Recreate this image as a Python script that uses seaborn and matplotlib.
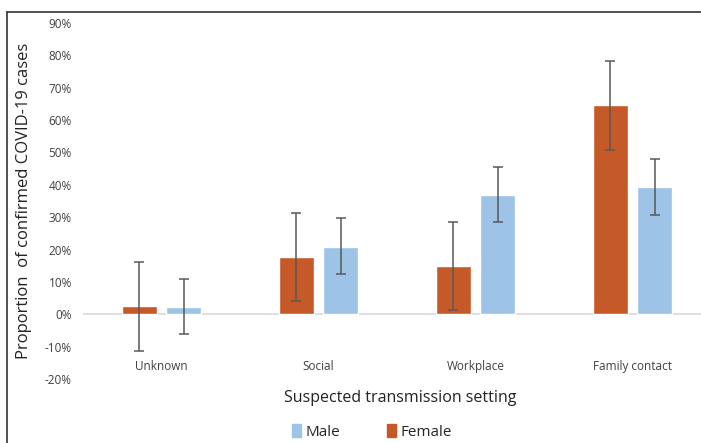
import matplotlib

matplotlib.use("Agg")
import matplotlib.pyplot as plt
import matplotlib.ticker as mticker
import numpy as np
import pandas as pd
import seaborn as sns
from matplotlib.lines import Line2D
from matplotlib.patches import Patch

# values (proportions)
settings = ["Unknown", "Social", "Workplace", "Family contact"]
female_vals = [0.025, 0.176, 0.149, 0.646]
female_low = [-0.113, 0.040, 0.013, 0.509]
female_high = [0.163, 0.312, 0.286, 0.782]
male_vals = [0.022, 0.209, 0.370, 0.393]
male_low = [-0.060, 0.125, 0.286, 0.306]
male_high = [0.110, 0.296, 0.456, 0.480]
sexes = ["Female", "Male"]
colors = {"Female": "#C55A28", "Male": "#9DC3E6"}

df = pd.DataFrame(
    {
        "setting": settings * 2,
        "sex": ["Female"] * 4 + ["Male"] * 4,
        "prop": female_vals + male_vals,
        "low": female_low + male_low,
        "high": female_high + male_high,
    }
)

sns.set_theme(style="white")
plt.rcParams["font.family"] = ["Open Sans", "DejaVu Sans"]

fig = plt.figure(figsize=(7.01, 4.43), dpi=100)
ax = fig.add_axes([83 / 701, 64 / 443, 628 / 701, 356 / 443])

sns.barplot(
    data=df,
    x="setting",
    y="prop",
    hue="sex",
    hue_order=sexes,
    order=settings,
    palette=colors,
    saturation=1,
    width=0.57,
    gap=0.22,
    errorbar=None,
    legend=False,
    ax=ax,
)

# asymmetric error bars on top of each bar
for container, sex in zip(ax.containers, sexes):
    sub = df[df["sex"] == sex].set_index("setting").loc[settings]
    xs = [p.get_x() + p.get_width() / 2 for p in container.patches]
    yerr = np.vstack([sub["prop"] - sub["low"], sub["high"] - sub["prop"]])
    ax.errorbar(
        xs, sub["prop"], yerr=yerr, fmt="none", ecolor="#595959",
        elinewidth=1.1, capsize=3.5, capthick=1.1, zorder=5,
    )

ax.axhline(0, color="#D9D9D9", lw=1.2, zorder=0)
ax.set_xlim(-0.5, 3.5)
ax.set_ylim(-0.2, 0.9)
ax.set_yticks(np.arange(-0.2, 0.91, 0.1))
ax.yaxis.set_major_formatter(mticker.FuncFormatter(lambda v, _: f"{v * 100:.0f}%"))
for s in ax.spines.values():
    s.set_visible(False)
ax.tick_params(axis="y", length=0, labelsize=8.5, labelcolor="#404040", pad=8)
ax.tick_params(axis="x", length=0, labelsize=8.5, labelcolor="#404040", pad=-14)
ax.set_xlabel("")
ax.set_ylabel("Proportion  of confirmed COVID-19 cases", fontsize=12, color="#222222")
ax.yaxis.set_label_coords((32 - 83) / 628, 0.5)

fig.text(400 / 701, 1 - 398 / 443, "Suspected transmission setting",
         ha="center", va="center", fontsize=11.5, color="#222222")

handles = [Patch(color=colors["Male"]), Patch(color=colors["Female"])]
fig.legend(
    handles, ["Male", "Female"], loc="center", bbox_to_anchor=(372 / 701, 1 - 432 / 443),
    ncol=2, frameon=False, fontsize=11, handlelength=0.6, handleheight=0.9,
    handletextpad=0.3, columnspacing=3.0,
)

# outer chart frame (partly cropped in the reference)
fig.add_artist(Line2D([7 / 701, 7 / 701], [0, 1 - 12 / 443], color="#333333", lw=1.2))
fig.add_artist(Line2D([7 / 701, 1], [1 - 12 / 443, 1 - 12 / 443], color="#333333", lw=1.2))

fig.savefig("out.png", dpi=100)
